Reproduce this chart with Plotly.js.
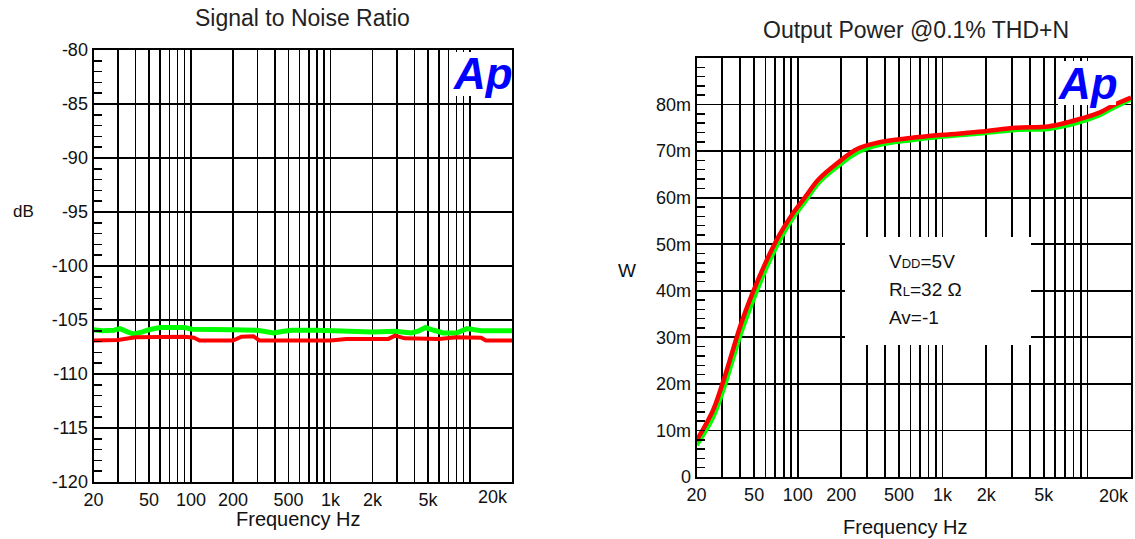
<!DOCTYPE html>
<html><head><meta charset="utf-8">
<script src="https://cdn.plot.ly/plotly-3.0.1.min.js"></script>
<style>html,body{margin:0;padding:0;background:#fff}#chart{width:1135px;height:539px}</style>
</head><body><div id="chart"></div>
<script>
// ---------- data ----------
const snrGreenFreq = [20,23,28,31,35,39,45,50,60,75,90,102,130,200,300,390,460,530,800,1200,2000,2900,3800,4300,4800,5500,6400,8000,9500,12000,20000];
const snrGreen = [-105.9,-106.0,-105.95,-105.8,-106.1,-106.3,-106.1,-105.9,-105.7,-105.7,-105.7,-105.85,-105.9,-105.9,-105.95,-106.2,-106.05,-105.95,-105.95,-106.05,-106.1,-106.05,-106.2,-106.0,-105.7,-105.95,-106.2,-106.2,-105.8,-106.0,-106.0];
const snrRedFreq = [20,30,40,50,70,90,105,115,200,230,280,310,500,1000,1300,2600,2900,3400,6000,8000,12000,13000,20000];
const snrRed = [-106.9,-106.85,-106.6,-106.6,-106.55,-106.55,-106.65,-106.9,-106.9,-106.55,-106.5,-106.9,-106.9,-106.9,-106.75,-106.75,-106.45,-106.7,-106.75,-106.6,-106.65,-106.9,-106.9];

const powFreq = [20,25.9,30.4,35.6,40.5,48.9,59.9,73.8,91.5,112.5,138,189,259,355,600,1010,1890,3185,5380,7350,9300,12000,15000,20000];
const powRed_mW = [7.8,14.2,20.3,27.2,32.8,39.6,46,51.7,56.4,60.1,63.8,67.5,70.5,71.8,72.8,73.5,74.2,75,75.3,76.2,77.1,78.2,79.8,81.5];
const powGreen_mW = [6.9,12.8,18.6,25.4,31.0,37.9,44.6,50.5,55.5,59.3,63.1,66.8,69.8,71.3,72.4,73.2,73.9,74.6,74.8,75.6,76.5,77.7,79.3,81.2];

const gridFreqs = [20,30,40,50,60,70,80,90,100,200,300,400,500,600,700,800,900,1000,2000,3000,4000,5000,6000,7000,8000,9000,10000,20000];
const freqLabels = {20:'20',50:'50',100:'100',200:'200',500:'500',1000:'1k',2000:'2k',5000:'5k'};
const lastFreqLabel = '20k';
const snrTicks = [-120,-115,-110,-105,-100,-95,-90,-85,-80];
const snrTickLabels = ['-120','-115','-110','-105','-100','-95','-90','-85','-80'];
const powTicks_mW = [0,10,20,30,40,50,60,70,80];
const powTickLabels = ['0','10m','20m','30m','40m','50m','60m','70m','80m'];
const thickFreqs = [60,80,400,700,2000,6000];
const thickPow_mW = [10,60,70,80];

const leftTitle = 'Signal to Noise Ratio';
const rightTitle = 'Output Power @0.1% THD+N';
const xTitle = 'Frequency Hz';
const condLines = ['V<span style="font-size:13px">DD</span>=5V','R<span style="font-size:13px">L</span>=32 Ω','Av=-1'];

// ---------- layout helpers ----------
const W = 1135, H = 539;
const px = x => x / W;
const py = y => 1 - y / H;
const FONT = 'Liberation Sans, Arial, sans-serif';
const freqTickText = gridFreqs.map(f => freqLabels[f] || '');
const xrange = [Math.log10(20), Math.log10(20000)];

function xAxis(domain, anchor) {
  return {
    domain: domain, anchor: anchor, type: 'log', range: xrange,
    tickmode: 'array', tickvals: gridFreqs, ticktext: freqTickText,
    showgrid: true, gridcolor: '#000', gridwidth: 1.7,
    showline: true, linecolor: '#000', linewidth: 2, mirror: true,
    ticks: '', ticklabelstandoff: 0,
    tickfont: {family: FONT, size: 18, color: '#111'},
    zeroline: false, fixedrange: true
  };
}
function yAxis(domain, anchor, range, vals, text, minorStep) {
  return {
    domain: domain, anchor: anchor, range: range,
    tickmode: 'array', tickvals: vals, ticktext: text,
    showgrid: true, gridcolor: '#000', gridwidth: 1.7,
    showline: true, linecolor: '#000', linewidth: 2, mirror: true,
    ticks: 'inside', ticklen: 8, tickwidth: 1.5, tickcolor: '#000',
    minor: {tickmode: 'linear', tick0: range[0], dtick: minorStep, ticks: 'inside', ticklen: 8, tickwidth: 1.5, tickcolor: '#000', showgrid: false},
    tickfont: {family: FONT, size: 18, color: '#111'},
    zeroline: false, fixedrange: true
  };
}

const data = [
  {x: snrGreenFreq, y: snrGreen, xaxis: 'x', yaxis: 'y', mode: 'lines', line: {color: '#00ff00', width: 5}, hoverinfo: 'skip'},
  {x: snrRedFreq, y: snrRed, xaxis: 'x', yaxis: 'y', mode: 'lines', line: {color: '#ff0000', width: 4}, hoverinfo: 'skip'},
  {x: powFreq, y: powGreen_mW, xaxis: 'x2', yaxis: 'y2', mode: 'lines', line: {color: '#00ff00', width: 5, shape: 'spline'}, hoverinfo: 'skip'},
  {x: powFreq, y: powRed_mW, xaxis: 'x2', yaxis: 'y2', mode: 'lines', line: {color: '#ff0000', width: 4.5, shape: 'spline'}, hoverinfo: 'skip'}
];

const leftDom = [px(93.5), px(512)];
const rightDom = [px(696.5), px(1131)];
const leftYDom = [py(482), py(50)];
const rightYDom = [py(477), py(58)];

function whiteBox(cx, cy, w, h) {
  return {text: ' ', xref: 'paper', yref: 'paper', x: px(cx), y: py(cy), xanchor: 'center', yanchor: 'middle',
          width: w, height: h, bgcolor: '#fff', borderpad: 0, borderwidth: 0, showarrow: false};
}
function label(text, cx, cy, size, anchor, color) {
  return {text: text, xref: 'paper', yref: 'paper', x: px(cx), y: py(cy), xanchor: anchor || 'center', yanchor: 'middle',
          showarrow: false, font: {family: FONT, size: size, color: color || '#111'}};
}

const layout = {
  width: W, height: H, margin: {l: 0, r: 0, t: 0, b: 0},
  paper_bgcolor: '#fff', plot_bgcolor: '#fff', showlegend: false,
  xaxis: xAxis(leftDom, 'y'),
  xaxis2: xAxis(rightDom, 'y2'),
  xaxis3: {domain: rightDom, anchor: 'y2', overlaying: 'x2', type: 'log', range: xrange,
    tickmode: 'array', tickvals: thickFreqs, showticklabels: false, ticks: '',
    showgrid: true, gridcolor: '#000', gridwidth: 3, showline: false, zeroline: false, fixedrange: true},
  yaxis: yAxis(leftYDom, 'x', [-120, -80], snrTicks, snrTickLabels, 1),
  yaxis2: yAxis(rightYDom, 'x2', [0, 90], powTicks_mW, powTickLabels, 2),
  yaxis3: {domain: rightYDom, anchor: 'x2', overlaying: 'y2', range: [0, 90],
    tickmode: 'array', tickvals: thickPow_mW, showticklabels: false, ticks: '',
    showgrid: true, gridcolor: '#000', gridwidth: 3, showline: false, zeroline: false, fixedrange: true},
  annotations: [
    whiteBox(938, 291, 186, 108),
    whiteBox(483, 74, 54, 44),
    whiteBox(1087, 83, 58, 44),
    label(leftTitle, 302, 18, 23, 'center', '#222'),
    label(rightTitle, 916, 30, 23, 'center', '#222'),
    label(xTitle, 298, 519, 20),
    label(xTitle, 905, 527, 20),
    label('dB', 23, 212, 17),
    label('W', 627, 270, 19),
    label(lastFreqLabel, 510, 497, 18, 'right'),
    label(lastFreqLabel, 1131, 496, 18, 'right'),
    label('<b><i>Ap</i></b>', 483, 73, 44, 'center', '#0000ff'),
    label('<b><i>Ap</i></b>', 1088, 83, 44, 'center', '#0000ff'),
    label(condLines[0], 887, 261, 19, 'left'),
    label(condLines[1], 887, 289, 19, 'left'),
    label(condLines[2], 887, 317, 19, 'left')
  ]
};

Plotly.newPlot('chart', data, layout, {staticPlot: true, displayModeBar: false});
</script>
</body></html>
